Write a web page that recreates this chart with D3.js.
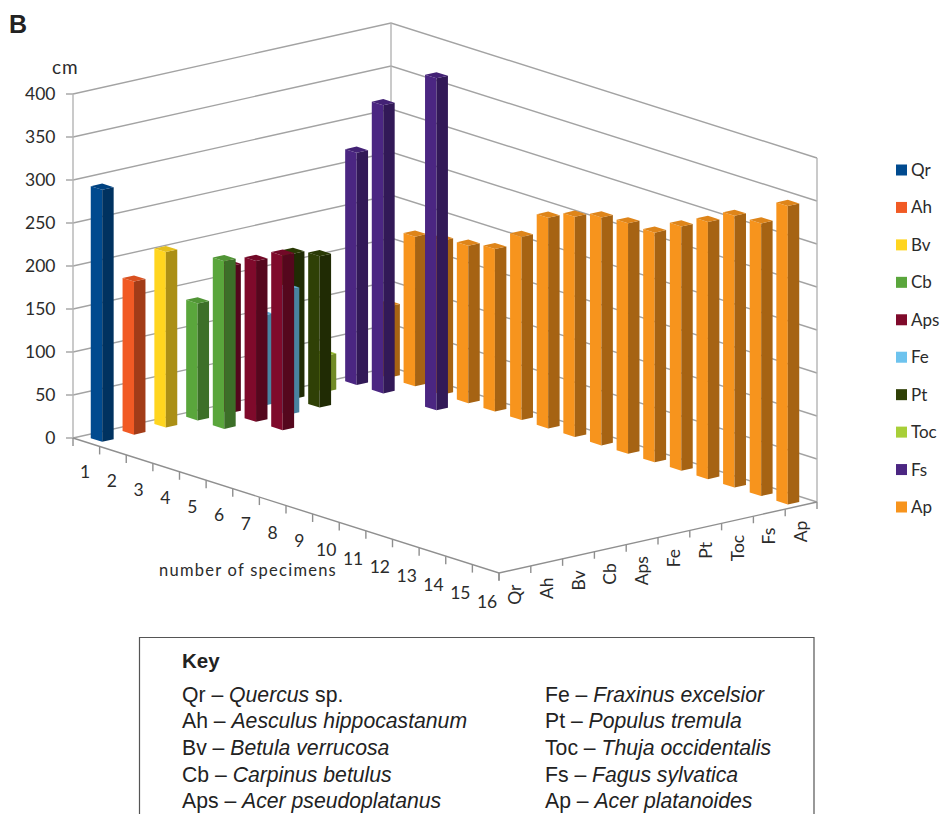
<!DOCTYPE html>
<html>
<head>
<meta charset="utf-8">
<title>Tree height by species</title>
<script src="https://cdn.jsdelivr.net/npm/d3@7/dist/d3.min.js"></script>
<style>
  html, body { margin: 0; padding: 0; background: #fff; }
  svg { display: block; }
  .chartText { font-family: Lato, sans-serif; fill: #2b2b2b; }
  .keyText { font-family: "Liberation Sans", Arial, sans-serif; fill: #222; }
</style>
</head>
<body>
<script>
// Species codes and their full names
const species = ["Qr", "Ah", "Bv", "Cb", "Aps", "Fe", "Pt", "Toc", "Fs", "Ap"];
const specimens = d3.range(1, 17).map(String);
const heightTicks = [0, 50, 100, 150, 200, 250, 300, 350, 400];
const keyLeft = [["Qr", "Quercus", " sp."], ["Ah", "Aesculus hippocastanum", ""], ["Bv", "Betula verrucosa", ""], ["Cb", "Carpinus betulus", ""], ["Aps", "Acer pseudoplatanus", ""]];
const keyRight = [["Fe", "Fraxinus excelsior", ""], ["Pt", "Populus tremula", ""], ["Toc", "Thuja occidentalis", ""], ["Fs", "Fagus sylvatica", ""], ["Ap", "Acer platanoides", ""]];
const speciesColors = ["#004a8f", "#f15a24", "#ffd51f", "#5aa63c", "#7f0a2b", "#6dc3ee", "#2f4006", "#a8cf38", "#4b2682", "#f7941d"];

// Height in cm of each measured specimen, per species (null = no bar)
const Qr = [293];
const Ah = [178];
const Bv = [204];
const Cb = [136, 195];
const Aps = [171, 187, 203];
const Fe = [105, 145];
const Pt = [169, 176];
const Toc = [42];
const Fs = [270, 335, null, 386];
const Ap = [83, 174, 179, 183, 189, 213, 245, 256, 265, 268, 267, 284, 299, 316, 317, 347];
const heights = [Qr, Ah, Bv, Cb, Aps, Fe, Pt, Toc, Fs, Ap];

const width = 943, height = 814;
const svg = d3.select("body").append("svg").attr("width", width).attr("height", height);

// Oblique projection: two floor axes plus a vertical height axis
const origin = [73, 438];
const perSpecimen = [26.625, 8.44];
const perSpecies = [31.8, -7.1];
const specimenBand = d3.scaleBand(specimens, [0, 16]).paddingInner(0.57).paddingOuter(0.285);
const speciesBand = d3.scaleBand(species, [0, 10]).paddingInner(0.64).paddingOuter(0.32);
const specimenPos = d3.scaleLinear([0, 16], [0, 16]);
const speciesPos = d3.scaleLinear([0, 10], [0, 10]);
const rise = d3.scaleLinear([0, 400], [0, 344]);

const project = (s, t, v = 0) => [
  origin[0] + perSpecimen[0] * s + perSpecies[0] * t,
  origin[1] + perSpecimen[1] * s + perSpecies[1] * t - rise(v)
];
const path = d3.line();
const polygon = pts => path(pts) + "Z";

// Walls: gridlines on the two back planes and their vertical edges
const wallColor = "#a3a3a3";
const grid = svg.append("g").attr("fill", "none").attr("stroke", wallColor).attr("stroke-width", 1.4);
heightTicks.forEach(v => {
  grid.append("path").attr("d", path([project(0, 0, v), project(0, 10, v), project(16, 10, v)]));
  const a = project(0, 0, v);
  grid.append("line").attr("x1", a[0] - 7).attr("x2", a[0]).attr("y1", a[1]).attr("y2", a[1]);
});
[[0, 0], [0, 10], [16, 10]].forEach(([s, t]) => {
  grid.append("line").attr("stroke", "#b4b4b4")
    .attr("x1", project(s, t, 0)[0]).attr("y1", project(s, t, 0)[1])
    .attr("x2", project(s, t, 400)[0]).attr("y2", project(s, t, 400)[1]);
});

// Floor axes with their tick marks
const axes = svg.append("g").attr("fill", "none").attr("stroke", "#8f8f8f").attr("stroke-width", 1.4);
axes.append("path").attr("d", path([project(0, 0), project(16, 0), project(16, 10)]));
d3.range(0, 17).forEach(i => {
  const p = project(specimenPos(i), 0);
  axes.append("line").attr("x1", p[0]).attr("x2", p[0]).attr("y1", p[1]).attr("y2", p[1] + 8);
});
d3.range(0, 11).forEach(i => {
  const p = project(16, speciesPos(i));
  axes.append("line").attr("x1", p[0]).attr("x2", p[0]).attr("y1", p[1]).attr("y2", p[1] + 7);
});

// Flatten the series, painting the rear rows first
const bars = [];
heights.forEach((vals, si) => vals.forEach((v, pi) => {
  if (v !== null) bars.push({ si, pi, v });
}));
bars.sort((a, b) => (b.si - a.si) || (a.pi - b.pi));

const barLayer = svg.append("g");
bars.forEach(d => {
  const s0 = specimenBand(specimens[d.pi]), s1 = s0 + specimenBand.bandwidth();
  const t0 = speciesBand(species[d.si]), t1 = t0 + speciesBand.bandwidth();
  const base = d3.color(speciesColors[d.si]);
  const g = barLayer.append("g");
  // left face
  g.append("path").attr("fill", base.formatHex())
    .attr("d", polygon([project(s0, t0, 0), project(s1, t0, 0), project(s1, t0, d.v), project(s0, t0, d.v)]));
  // right face
  g.append("path").attr("fill", base.darker(1.12).formatHex())
    .attr("d", polygon([project(s1, t0, 0), project(s1, t1, 0), project(s1, t1, d.v), project(s1, t0, d.v)]));
  // top face
  g.append("path").attr("fill", base.darker(0.3).formatHex())
    .attr("d", polygon([project(s0, t0, d.v), project(s1, t0, d.v), project(s1, t1, d.v), project(s0, t1, d.v)]));
});

// Height axis labels and unit
const labels = svg.append("g").attr("class", "chartText").attr("font-size", 17.5);
heightTicks.forEach(v => {
  labels.append("text").attr("x", 55.5).attr("y", project(0, 0, v)[1] + 6)
    .attr("text-anchor", "end").text(v);
});
labels.append("text").attr("x", 52).attr("y", 74).attr("font-size", 19).attr("letter-spacing", 1).text("cm");

// Specimen numbers below the front-left edge
specimens.forEach((label, i) => {
  const p = project(i + 0.5, 0);
  labels.append("text").attr("x", p[0] - 1.3 + i * 0.18).attr("y", p[1] + 36 + i * 0.2)
    .attr("text-anchor", "middle").text(label);
});
labels.append("text").attr("x", 159).attr("y", 576).attr("font-size", 16.5).attr("letter-spacing", 1.25).text("number of specimens");

// Species codes, rotated, below the front-right edge
species.forEach((label, i) => {
  const p = project(16, i + 0.5);
  labels.append("text").attr("transform", `translate(${p[0] + 6},${p[1] + 15}) rotate(-90)`)
    .attr("text-anchor", "end").attr("font-size", 17.5).text(label);
});

// Legend swatches
const legendY = d3.scalePoint(species, [170, 507]);
species.forEach((label, i) => {
  svg.append("rect").attr("x", 896).attr("y", legendY(label) - 5.5).attr("width", 11).attr("height", 11)
    .attr("fill", speciesColors[i]);
  svg.append("text").attr("class", "chartText").attr("font-size", 17)
    .attr("x", 911).attr("y", legendY(label) + 6).text(label);
});

// Panel letter
svg.append("text").attr("class", "keyText").attr("x", 9).attr("y", 33)
  .attr("font-size", 25).attr("font-weight", "bold").text("B");

// Key box, open along the bottom
svg.append("path").attr("fill", "none").attr("stroke", "#555").attr("stroke-width", 1.2)
  .attr("d", path([[139.5, 814], [139.5, 637.5], [814, 637.5], [814, 814]]));
svg.append("text").attr("class", "keyText").attr("x", 182).attr("y", 668)
  .attr("font-size", 20.5).attr("font-weight", "bold").text("Key");

function keyColumn(rows, x) {
  rows.forEach(([code, name, suffix], i) => {
    const t = svg.append("text").attr("class", "keyText").attr("x", x).attr("y", 701.5 + i * 26.7).attr("font-size", 21.2);
    t.append("tspan").text(code + " \u2013 ");
    t.append("tspan").attr("font-style", "italic").text(name);
    if (suffix) t.append("tspan").text(suffix);
  });
}
keyColumn(keyLeft, 182);
keyColumn(keyRight, 545);
</script>
</body>
</html>
